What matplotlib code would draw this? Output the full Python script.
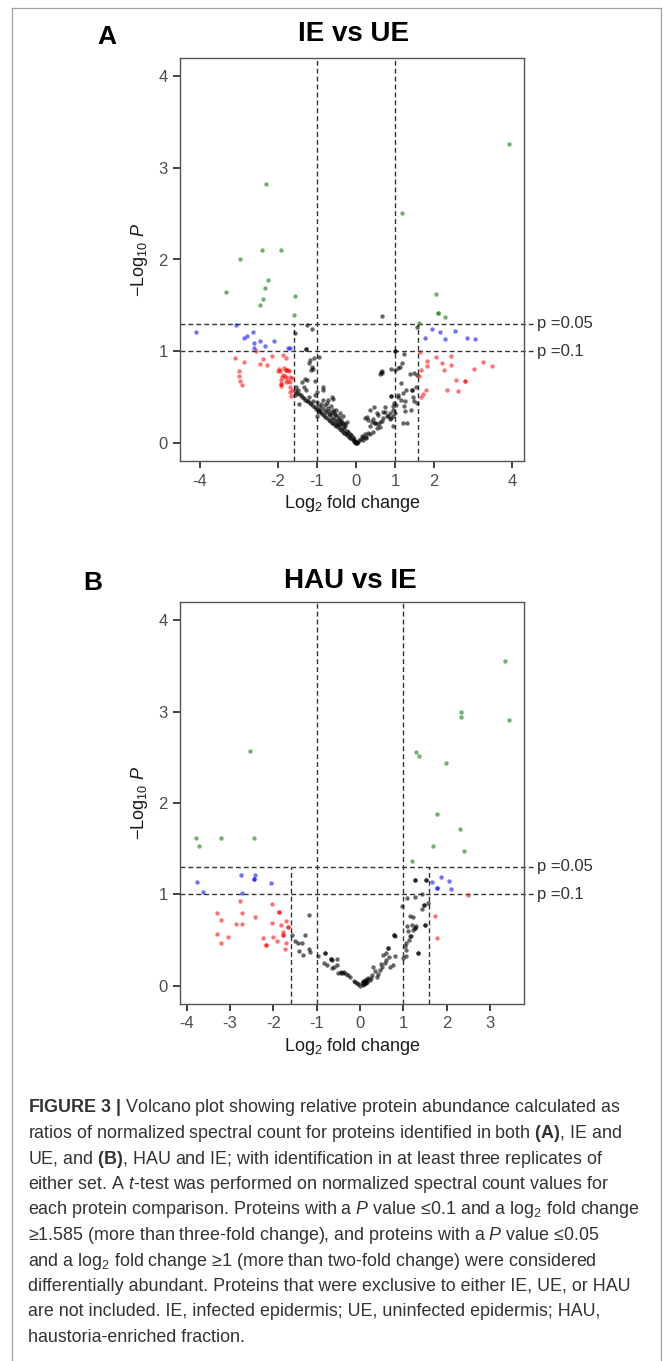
import numpy as np
import matplotlib
matplotlib.use('Agg')
import matplotlib.pyplot as plt
from matplotlib.lines import Line2D

plt.rcParams['font.family'] = ['Liberation Sans', 'DejaVu Sans']
plt.rcParams['mathtext.fontset'] = 'custom'
plt.rcParams['mathtext.rm'] = 'Liberation Sans'
plt.rcParams['mathtext.it'] = 'Liberation Sans:italic'
plt.rcParams['mathtext.bf'] = 'Liberation Sans:bold'

# ---------------- data : panel A (IE vs UE) ----------------
a_green_x = [3.92, -2.31, 1.17, -2.40, -1.91, -2.97, -2.26, -2.32, -3.33, -1.57, -2.38, 2.05, -2.47, -1.59, 2.11, 2.11, 2.28, 1.63]
a_green_y = [3.26, 2.82, 2.51, 2.10, 2.10, 2.01, 1.78, 1.69, 1.64, 1.60, 1.57, 1.62, 1.50, 1.39, 1.42, 1.42, 1.37, 1.31]

a_blue_x = [-4.10, -3.08, -2.80, -2.87, -2.64, -2.62, -2.47, -2.33, -2.09, -2.62, -1.73, -1.70, 1.95, 2.15, 2.54, 1.76, 2.29, 2.86, 3.06]
a_blue_y = [1.21, 1.28, 1.17, 1.14, 1.21, 1.09, 1.11, 1.06, 1.11, 1.03, 1.03, 1.03, 1.24, 1.21, 1.22, 1.14, 1.13, 1.14, 1.13]

a_red_x = [-3.10, -2.87, -2.99, -2.99, -2.97, -2.92, -2.56, -2.38, -2.47, -2.29, -2.15, -1.86, -1.80,
           -1.98, -1.95, -1.85, -1.80, -1.75, -1.71, -1.89, -1.82, -1.78, -1.91, -1.69, -1.65, -1.93, -1.92,
           -1.79, -1.74, -1.68, -1.68, -1.65, -1.68, -1.66, -1.86, -2.00, -1.80, -1.92,
           1.64, 2.06, 2.44, 1.83, 1.82, 2.21, 2.44, 1.66, 2.25, 3.26, 3.49, 3.02, 1.62, 2.57, 2.80, 2.80,
           1.80, 2.33, 2.63, 1.73, 1.66]
a_red_y = [0.92, 0.88, 0.78, 0.73, 0.67, 0.63, 1.00, 0.91, 0.86, 0.85, 0.95, 0.96, 0.92,
           0.80, 0.78, 0.82, 0.79, 0.79, 0.78, 0.72, 0.73, 0.71, 0.68, 0.72, 0.71, 0.64, 0.62,
           0.66, 0.67, 0.66, 0.61, 0.58, 0.55, 0.51, 0.74, 0.78, 0.79, 0.64,
           0.99, 0.94, 0.95, 0.89, 0.84, 0.87, 0.85, 0.79, 0.79, 0.88, 0.84, 0.80, 0.73, 0.68, 0.67, 0.67,
           0.58, 0.57, 0.56, 0.53, 0.50]

a_black_x = [-1.26, -1.12, -1.56, -1.27, -1.27, -1.18, -0.94, -1.08, -1.12, -1.09, -1.14, -1.20, -1.31, -1.26, -1.37,
             -1.05, -1.54, -1.48, -1.56, -1.33, -1.28, -0.85, -0.84, -1.46, -0.62, -0.58, -0.71, -0.84, -1.01,
             -0.94, -0.75, -0.50, -0.41, -0.32, -0.54, -0.24, -0.28,
             -1.55, -1.50, -1.46, -1.42, -1.38, -1.34, -1.30, -1.26, -1.22, -1.18, -1.14, -1.10, -1.06, -1.02,
             -0.98, -0.94, -0.90, -0.86, -0.82, -0.78, -0.74, -0.70, -0.66, -0.62, -0.58, -0.54, -0.50, -0.46,
             -0.42, -0.38, -0.34, -0.30, -0.26, -0.22, -0.18, -0.14, -0.10, -0.06, -0.03,
             -1.20, -1.10, -1.00, -0.95, -0.88, -0.80, -0.76, -0.70, -0.66, -0.62, -0.60, -0.56, -0.52, -0.48,
             -0.46, -0.44, -0.40, -0.36, -0.34, -0.30, -0.27, -0.24, -0.20, -0.16, -0.12, -0.08, -0.05, -0.72,
             -0.68, -0.64, -0.58, -0.44, -0.38, -0.90, -1.04, -0.99, -0.78, -0.55, -0.50, -0.42, -0.32,
             -0.02, 0.00, 0.01, -0.04, 0.02,
             0.03, 0.06, 0.09, 0.12, 0.17, 0.23, 0.26, 0.36, 0.19, 0.27, 0.15, 0.32, 0.44, 0.53, 0.36, 0.49,
             0.62, 0.70, 0.79, 0.87, 0.96, 0.44, 0.29, 0.57, 0.74, 0.89, 1.03, 1.09, 1.21, 1.26, 1.43, 1.47, 1.30,
             0.66, 1.56, 1.00, 1.00, 1.24, 1.17, 1.13, 1.09, 0.91, 1.00, 0.66, 0.62, 0.68, 0.65, 1.38, 1.49,
             1.56, 1.15, 1.28, 1.44, 1.54, 0.91, 0.91, 1.09, 1.15, 0.98, 0.94, 1.24, 1.26, 1.41, 1.50, 1.56,
             1.21, 0.96, 0.96, 1.00, 0.46, 0.36, 0.53, 0.70, 0.74, 0.83, 0.87, 0.23, 0.32, 0.40, 0.49, 0.57,
             0.66, 0.62]
a_black_y = [1.28, 1.24, 1.20, 1.02, 1.02, 0.90, 0.94, 0.92, 0.83, 0.80, 0.79, 0.87, 0.70, 0.68, 0.66,
             0.67, 0.61, 0.58, 0.52, 0.61, 0.58, 0.61, 0.58, 0.42, 0.50, 0.48, 0.47, 0.47, 0.29,
             0.36, 0.43, 0.36, 0.32, 0.29, 0.30, 0.23, 0.20,
             0.56, 0.54, 0.53, 0.52, 0.50, 0.49, 0.47, 0.46, 0.45, 0.43, 0.42, 0.40, 0.39, 0.37,
             0.36, 0.34, 0.33, 0.31, 0.30, 0.28, 0.27, 0.25, 0.24, 0.22, 0.21, 0.19, 0.18, 0.17,
             0.15, 0.14, 0.12, 0.11, 0.09, 0.08, 0.06, 0.05, 0.04, 0.02, 0.01,
             0.50, 0.46, 0.44, 0.40, 0.38, 0.36, 0.33, 0.31, 0.30, 0.27, 0.32, 0.26, 0.24, 0.22,
             0.26, 0.20, 0.19, 0.22, 0.17, 0.15, 0.18, 0.13, 0.12, 0.10, 0.08, 0.06, 0.04, 0.38,
             0.35, 0.40, 0.36, 0.28, 0.25, 0.42, 0.52, 0.55, 0.41, 0.34, 0.30, 0.24, 0.21,
             0.01, 0.00, 0.00, 0.02, 0.01,
             0.00, 0.01, 0.03, 0.04, 0.06, 0.09, 0.06, 0.09, 0.03, 0.05, 0.07, 0.11, 0.12, 0.16, 0.18, 0.21,
             0.23, 0.27, 0.29, 0.32, 0.36, 0.26, 0.28, 0.30, 0.33, 0.27, 0.41, 0.52, 0.54, 0.46, 0.58, 0.50, 0.21,
             1.38, 1.26, 1.00, 1.00, 0.97, 0.87, 0.83, 0.81, 0.80, 0.79, 0.78, 0.75, 0.76, 0.77, 0.75, 0.76,
             0.74, 0.65, 0.58, 0.58, 0.61, 0.51, 0.51, 0.50, 0.47, 0.43, 0.40, 0.40, 0.35, 0.36, 0.45, 0.43,
             0.22, 0.18, 0.29, 0.32, 0.39, 0.36, 0.32, 0.34, 0.39, 0.29, 0.26, 0.27, 0.25, 0.23, 0.21, 0.20,
             0.24, 0.17]

# ---------------- data : panel B (HAU vs IE) ----------------
b_green_x = [3.35, 2.33, 2.33, 3.43, -2.53, 1.30, 1.36, 1.99, 1.77, 2.30, -3.78, -3.21, -2.44, -3.71, 1.69, 2.39, 1.20]
b_green_y = [3.55, 3.00, 2.94, 2.91, 2.57, 2.56, 2.51, 2.44, 1.88, 1.72, 1.62, 1.62, 1.62, 1.53, 1.53, 1.48, 1.36]

b_blue_x = [-3.76, -3.62, -2.75, -2.71, -2.42, -2.44, -2.44, -2.06, 1.65, 1.86, 2.06, 2.10, 1.77, 1.77]
b_blue_y = [1.13, 1.03, 1.21, 1.01, 1.21, 1.17, 1.17, 1.12, 1.13, 1.19, 1.15, 1.06, 1.07, 1.07]

b_red_x = [-3.30, -3.20, -3.29, -3.20, -3.04, -2.87, -2.73, -2.76, -2.72, -2.42, -2.24, -2.16, -2.16, -2.03,
           -2.03, -2.00, -1.92, -1.87, -1.87, -1.82, -1.78, -1.78, -1.77, -1.71, -1.71, -1.73, -1.67, -1.67,
           2.48, 1.72, 1.77]
b_red_y = [0.80, 0.72, 0.57, 0.47, 0.53, 0.68, 0.68, 0.93, 0.80, 0.75, 0.52, 0.45, 0.45, 0.89,
           0.69, 0.53, 0.49, 0.81, 0.81, 0.67, 0.55, 0.55, 0.59, 0.71, 0.47, 0.40, 0.64, 0.64,
           0.99, 0.76, 0.52]

b_black_x = [-1.56, -1.50, -1.42, -1.34, -1.27, -1.17, -1.17, -1.15, -1.40, -1.31, -0.96, -0.81, -0.81, -0.84,
             -0.77, -0.68, -0.68, -0.65, -0.54, -0.52, -0.65, -0.60, -0.50, -0.45, -0.40, -0.32, -0.27, -0.23,
             -0.15, -0.08, 0.00, -0.12, -0.04, -0.44, -0.36,
             0.04, 0.08, 0.12, 0.15, 0.19, 0.17, 0.09, 0.06, 0.11, 0.14, 0.28, 0.35, 0.38, 0.31, 0.46, 0.51,
             0.58, 0.61, 0.66, 0.65, 0.65, 0.61, 0.54, 0.78, 0.78, 0.81, 0.81, 0.77, 1.00, 1.06, 1.07, 1.04,
             1.07, 1.12, 1.15, 1.23, 1.27, 1.27, 1.30, 1.09, 0.96, 1.09, 1.26, 1.34, 1.34, 1.44, 1.47, 1.47,
             1.42, 1.50, 1.50, 1.57, 1.27, 1.27, 1.52, 1.52, 1.20, 1.15, 1.23, 1.11, 1.18, 0.25, 0.22, 0.42,
             0.70, 0.48, 0.10, 0.13]
b_black_y = [0.56, 0.49, 0.47, 0.47, 0.56, 0.77, 0.40, 0.37, 0.38, 0.34, 0.32, 0.36, 0.36, 0.25,
             0.23, 0.29, 0.29, 0.28, 0.29, 0.23, 0.19, 0.20, 0.14, 0.14, 0.14, 0.13, 0.12, 0.10,
             0.05, 0.03, 0.00, 0.04, 0.02, 0.15, 0.15,
             0.03, 0.05, 0.06, 0.07, 0.08, 0.04, 0.02, 0.01, 0.03, 0.05, 0.12, 0.16, 0.10, 0.21, 0.17, 0.20,
             0.25, 0.28, 0.31, 0.41, 0.41, 0.36, 0.34, 0.56, 0.56, 0.54, 0.32, 0.23, 0.30, 0.32, 0.39, 0.43,
             0.47, 0.50, 0.54, 0.61, 0.63, 0.63, 0.65, 0.65, 0.87, 0.96, 0.97, 0.36, 0.36, 0.84, 0.88, 0.88,
             1.00, 0.67, 0.67, 0.91, 1.16, 1.16, 1.16, 1.16, 0.67, 0.76, 0.75, 0.60, 0.54, 0.09, 0.06, 0.13,
             0.20, 0.24, 0.04, 0.03]

a_xticks = [-4, -2, -1, 0, 1, 2, 4]
b_xticks = [-4, -3, -2, -1, 0, 1, 2, 3]
y_ticks = [0, 1, 2, 3, 4]
fc_lines = [-1.585, -1, 1, 1.585]
p_lines = [1.301, 1.0]
p_labels = ['p =0.05', 'p =0.1']

caption = [
    r'$\mathbf{FIGURE\ 3\ |}$ Volcano plot showing relative protein abundance calculated as',
    r'ratios of normalized spectral count for proteins identified in both $\mathbf{(A)}$, IE and',
    r'UE, and $\mathbf{(B)}$, HAU and IE; with identification in at least three replicates of',
    r'either set. A $\mathit{t}$-test was performed on normalized spectral count values for',
    r'each protein comparison. Proteins with a $\mathit{P}$ value ≤0.1 and a log$_2$ fold change',
    r'≥1.585 (more than three-fold change), and proteins with a $\mathit{P}$ value ≤0.05',
    r'and a log$_2$ fold change ≥1 (more than two-fold change) were considered',
    r'differentially abundant. Proteins that were exclusive to either IE, UE, or HAU',
    r'are not included. IE, infected epidermis; UE, uninfected epidermis; HAU,',
    r'haustoria-enriched fraction.',
]

W, H = 663, 1361
fig = plt.figure(figsize=(W / 100, H / 100), dpi=100)

# thin grey frame around the figure
fc = '#a0a0a0'
fig.add_artist(Line2D([12 / W, 12 / W], [0, 1 - 8 / H], color=fc, lw=0.9))
fig.add_artist(Line2D([12 / W, 661 / W], [1 - 8 / H, 1 - 8 / H], color=fc, lw=0.9))
fig.add_artist(Line2D([661 / W, 661 / W], [0, 1 - 8 / H], color=fc, lw=0.9))


def panel(ax, gx, gy, bx, by, rx, ry, kx, ky, xticks, xlim):
    dash = (0, (3.5, 2.2))
    for v in fc_lines:
        if abs(v) == 1:
            ax.axvline(v, color='#333333', lw=1.0, ls=dash, zorder=1)
        else:
            ax.plot([v, v], [-0.2, 1.301], color='#333333', lw=1.0, ls=dash, zorder=1)
    for h, lab in zip(p_lines, p_labels):
        ax.plot([0, 1.026], [h, h], color='#333333', lw=1.0, ls=dash,
                transform=ax.get_yaxis_transform(), clip_on=False, zorder=1)
        ax.text(1.038, h, lab, transform=ax.get_yaxis_transform(), va='center', ha='left',
                fontsize=12, color='#333333')
    ax.scatter(kx, ky, s=10, color='black', alpha=0.6, lw=0, zorder=3)
    ax.scatter(rx, ry, s=10, color='#ff0000', alpha=0.55, lw=0, zorder=3)
    ax.scatter(bx, by, s=10, color='#0000ff', alpha=0.55, lw=0, zorder=3)
    ax.scatter(gx, gy, s=10, color='#1f8a1f', alpha=0.65, lw=0, zorder=3)
    ax.set_xlim(*xlim)
    ax.set_ylim(-0.2, 4.2)
    ax.set_xticks(xticks)
    ax.set_yticks(y_ticks)
    ax.set_xticklabels([str(t) for t in xticks])
    ax.tick_params(length=5, width=1.3, color='#333333', labelsize=12, labelcolor='#4d4d4d', pad=4)
    for s in ax.spines.values():
        s.set_color('#555555')
        s.set_linewidth(1.0)
    ax.set_xlabel('Log$_2$ fold change', fontsize=13, color='#1a1a1a', labelpad=3)
    ax.set_ylabel('−Log$_{10}$ $\\mathit{P}$', fontsize=13, color='#1a1a1a', labelpad=6)


axA = fig.add_axes([180 / W, 1 - 461 / H, 344 / W, 403 / H])
panel(axA, a_green_x, a_green_y, a_blue_x, a_blue_y, a_red_x, a_red_y, a_black_x, a_black_y,
      a_xticks, (-4.51, 4.31))
axB = fig.add_axes([180 / W, 1 - 1004 / H, 344 / W, 402 / H])
panel(axB, b_green_x, b_green_y, b_blue_x, b_blue_y, b_red_x, b_red_y, b_black_x, b_black_y,
      b_xticks, (-4.15, 3.78))

fig.text(353 / W, 1 - 34 / H, 'IE vs UE', fontsize=20, fontweight='bold', ha='center', va='center')
fig.text(107 / W, 1 - 37 / H, 'A', fontsize=19, fontweight='bold', ha='center', va='center')
fig.text(350 / W, 1 - 581 / H, 'HAU vs IE', fontsize=20, fontweight='bold', ha='center', va='center')
fig.text(93 / W, 1 - 583 / H, 'B', fontsize=19, fontweight='bold', ha='center', va='center')

for i, line in enumerate(caption):
    fig.text(28 / W, 1 - (1108 + i * 25.5) / H, line, fontsize=12.9, color='#333333',
             ha='left', va='center')

fig.savefig('out.png', dpi=100, facecolor='white')
